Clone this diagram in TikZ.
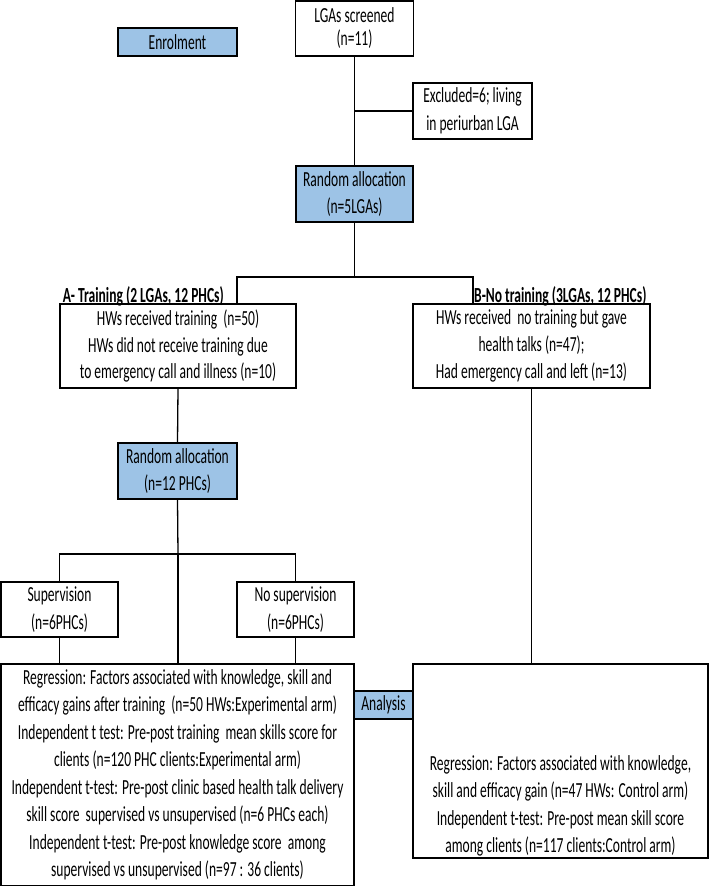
\documentclass[tikz,border=0pt]{standalone}
\usepackage{fontspec}
\setmainfont[FakeStretch=0.63]{Carlito}
\definecolor{boxblue}{RGB}{157,195,230}
\begin{document}
\begin{tikzpicture}[x=1pt,y=-1pt,
  box/.style={draw=black, line width=1.3pt, rectangle, align=center, inner sep=0pt,
    font=\fontsize{21.5}{27.5}\selectfont},
  bluebox/.style={box, fill=boxblue},
  conn/.style={draw=black, line width=1.3pt},
  lbl/.style={font=\fontsize{21.5}{24}\selectfont\bfseries, inner sep=0pt}]
\useasboundingbox (0,0) rectangle (709,887);

% nodes
\node[box, minimum width=118pt, minimum height=55pt, font=\fontsize{21.5}{23}\selectfont] (lga) at (354.5,28.5) {LGAs screened\\(n=11)};
\node[bluebox, minimum width=119pt, minimum height=28pt] (enrol) at (177.5,42) {Enrolment};
\node[box, minimum width=119pt, minimum height=56pt] (excl) at (472.5,111) {Excluded=6; living\\in periurban LGA};
\node[bluebox, minimum width=117pt, minimum height=56pt] (ra1) at (354.5,194) {Random allocation\\(n=5LGAs)};

\node[lbl, anchor=east] (alab) at (224,296) {A- Training (2 LGAs, 12 PHCs)};
\node[lbl, anchor=west] (blab) at (474,296) {B-No training (3LGAs, 12 PHCs)};

\node[box, minimum width=236pt, minimum height=84pt, font=\fontsize{21.5}{26.7}\selectfont] (abox) at (178,346) {HWs received training\ \ (n=50)\\HWs did not receive training due\\to emergency call and illness (n=10)};
\node[box, minimum width=237pt, minimum height=84pt, font=\fontsize{21.5}{26.7}\selectfont] (bbox) at (531.5,346) {HWs received\ \ no training but gave\\health talks (n=47);\\Had emergency call and left (n=13)};

\node[bluebox, minimum width=119pt, minimum height=56pt] (ra2) at (177.5,471) {Random allocation\\(n=12 PHCs)};

\node[box, minimum width=117pt, minimum height=55pt] (sup) at (59.5,609.5) {Supervision\\(n=6PHCs)};
\node[box, minimum width=117pt, minimum height=55pt] (nosup) at (295.5,609.5) {No supervision\\(n=6PHCs)};

\node[box, minimum width=353pt, minimum height=221.5pt] (lan) at (177.5,774.75) {Regression: Factors associated with knowledge, skill and\\efficacy gains after training\ \ (n=50 HWs:Experimental arm)\\Independent t test: Pre-post training\ \ mean skills score for\\clients (n=120 PHC clients:Experimental arm)\\Independent t-test: Pre-post clinic based health talk delivery\\skill score\ \ supervised vs unsupervised (n=6 PHCs each)\\Independent t-test: Pre-post knowledge score\ \ among\\supervised vs unsupervised (n=97 : 36 clients)};
\node[box, minimum width=295pt, minimum height=194pt] (ran) at (560.5,761) {};
\node[align=center, inner sep=0pt, font=\fontsize{21.5}{27.5}\selectfont] (rantext) at (560.5,806) {Regression: Factors associated with knowledge,\\skill and efficacy gain (n=47 HWs: Control arm)\\Independent t-test: Pre-post mean skill score\\among clients (n=117 clients:Control arm)};
\node[bluebox, minimum width=59pt, minimum height=28pt] (anal) at (383.5,705) {Analysis};

% connectors
\coordinate (br1) at (354.5,277);
\coordinate (br2) at (178,554);
\draw[conn] (lga.south) -- (ra1.north);
\draw[conn] (lga.south |- excl.west) -- (excl.west);
\draw[conn] (ra1.south) -- (br1);
\draw[conn] (br1) -| ([xshift=59pt]abox.north);
\draw[conn] (br1) -| ([xshift=-58.5pt]bbox.north);
\draw[conn] (abox.south) -- (ra2.north);
\draw[conn] (ra2.south) -- (br2);
\draw[conn] (br2) -| (sup.north);
\draw[conn] (br2) -| (nosup.north);
\draw[conn] (br2) -- (br2 |- lan.north);
\draw[conn] (sup.south) -- (sup.south |- lan.north);
\draw[conn] (nosup.south) -- (nosup.south |- lan.north);
\draw[conn] (bbox.south) -- (bbox.south |- ran.north);
\end{tikzpicture}
\end{document}
